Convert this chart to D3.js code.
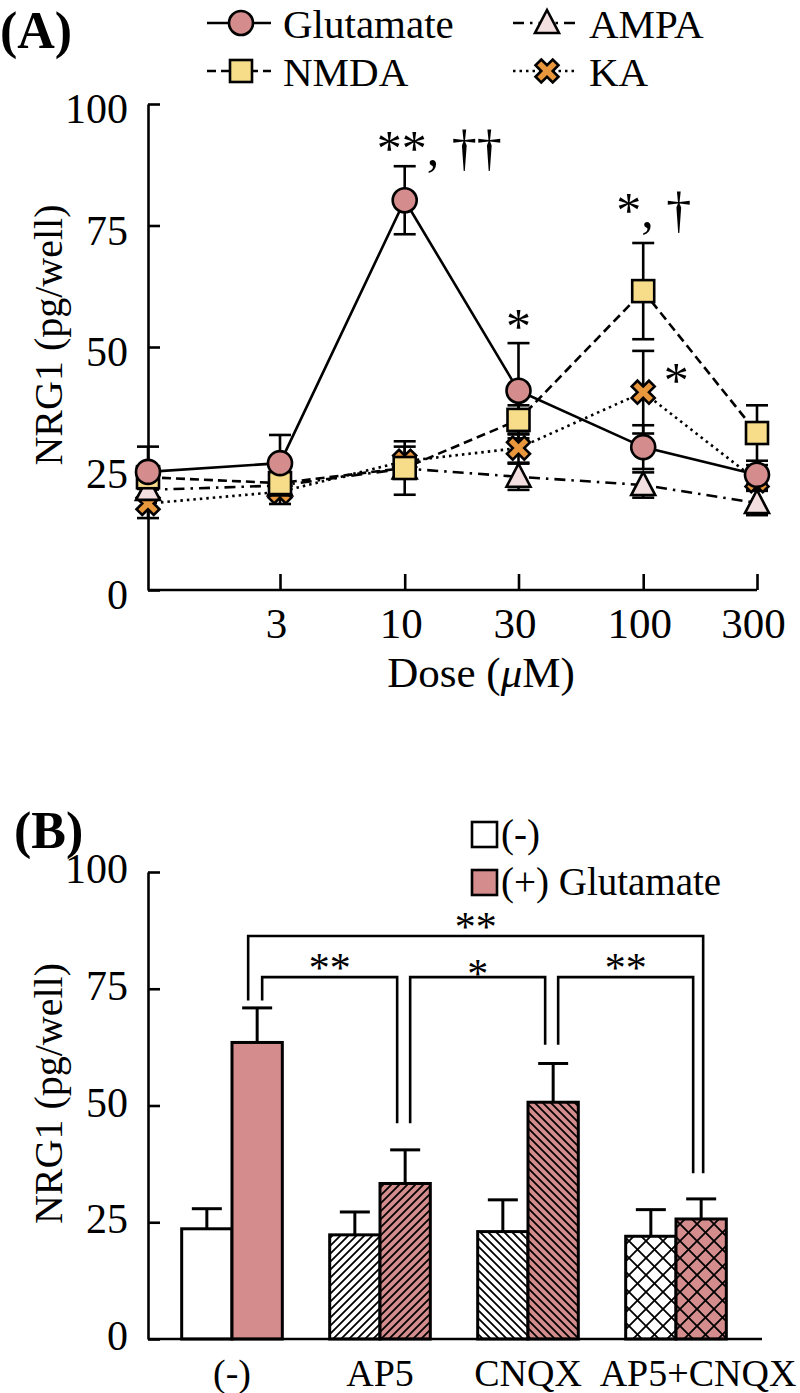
<!DOCTYPE html>
<html>
<head>
<meta charset="utf-8">
<script src="https://cdn.jsdelivr.net/npm/d3@7"></script>
<style>
  body { margin: 0; background: #fff; }
  text { font-family: "Liberation Serif", "Times New Roman", serif; fill: #000; }
</style>
</head>
<body>
<svg id="chart" width="800" height="1393"></svg>
<script>
// ---- panel A data (NRG1 pg/well vs dose) ----
var doses = [0, 3, 10, 30, 100, 300];
var doseTicks = [3, 10, 30, 100, 300];
var glutamate = [24.3, 26.1, 80.2, 41.0, 29.4, 23.7];
var glutamateErr = [5.2, 5.8, 7.0, 9.8, 4.5, 2.0];
var nmda = [23.2, 22.0, 25.1, 35.0, 61.5, 32.3];
var nmdaErr = [2.0, 2.0, 5.5, 3.0, 9.9, 5.7];
var ampa = [20.6, 21.5, 25.0, 23.3, 21.6, 17.9];
var ampaErr = [1.5, 1.5, 2.0, 2.7, 2.6, 2.5];
var ka = [17.8, 20.2, 26.5, 29.2, 40.7, 22.5];
var kaErr = [3.0, 2.5, 3.0, 3.0, 8.5, 2.0];
var yTicks = [0, 25, 50, 75, 100];
var annotA = [
  { dose: 10, value: 87.4, text: "**, ††" },
  { dose: 30, value: 50.8, text: "*" },
  { dose: 100, value: 74.6, text: "*, †" },
  { dose: 100, value: 39.8, text: "*" }
];

// ---- panel B data ----
var groups = ["(-)", "AP5", "CNQX", "AP5+CNQX"];
var ctrlVals = [23.6, 22.3, 23.0, 22.0];
var ctrlErr = [4.3, 4.9, 6.8, 5.7];
var gluVals = [63.5, 33.3, 50.7, 25.7];
var gluErr = [7.4, 7.2, 8.3, 4.3];
var legEnds = [72.5, 46.2, 63.0, 35.5];
var brackets = [
  { from: 0, to: 1, level: 77.5, text: "**" },
  { from: 1, to: 2, level: 77.5, text: "*" },
  { from: 2, to: 3, level: 77.5, text: "**" },
  { from: 0, to: 3, level: 86.3, text: "**" }
];

var svg = d3.select("#chart");
svg.append("rect").attr("width", 800).attr("height", 1393).attr("fill", "#fff");

var pink = "#d48c8c";
var lw = 2.6;

// ================= PANEL A =================
var leftA = 148, rightA = 757;
var yA = d3.scaleLinear().domain([0, 100]).range([590, 104]);
var xLog = d3.scaleLog().domain([3, 300]).range([280, 757]);
function xA(d) { return d === 0 ? leftA : xLog(d); }

var gA = svg.append("g");

var yAxisA = gA.append("g").attr("transform", "translate(" + leftA + ",0)")
  .call(d3.axisLeft(yA).tickValues(yTicks).tickSize(-12).tickSizeOuter(0).tickPadding(20));
yAxisA.selectAll("text").attr("font-size", 42).attr("dy", "0.45em");
yAxisA.selectAll("line").attr("stroke-width", lw);
yAxisA.select(".domain").attr("stroke-width", lw);

var xAxisA = gA.append("g").attr("transform", "translate(0," + yA(0) + ")")
  .call(d3.axisBottom(xLog).tickValues(doseTicks).tickFormat(d3.format("d")).tickSize(-16).tickSizeOuter(0));
xAxisA.select(".domain").remove();
xAxisA.selectAll("line").attr("stroke-width", lw);
xAxisA.selectAll("text").attr("font-size", 43).attr("y", 48).attr("dy", 0).attr("dx", -4);
gA.append("line").attr("x1", leftA).attr("x2", rightA).attr("y1", yA(0)).attr("y2", yA(0))
  .attr("stroke", "#000").attr("stroke-width", lw);
gA.selectAll("text").attr("font-family", null);

gA.append("text").attr("x", 481).attr("y", 687).attr("text-anchor", "middle")
  .attr("font-size", 43)
  .html('Dose (<tspan font-style="italic">μ</tspan>M)');
gA.append("text").attr("transform", "translate(62," + (yA(50) - 12) + ") rotate(-90)")
  .attr("text-anchor", "middle").attr("font-size", 40).text("NRG1 (pg/well)");

var seriesA = [
  { name: "KA", vals: ka, err: kaErr, dash: "2.5,4", fill: "#e8973d", shape: "x" },
  { name: "AMPA", vals: ampa, err: ampaErr, dash: "11,6,2.5,6", fill: "#f3dfdf", shape: "tri" },
  { name: "NMDA", vals: nmda, err: nmdaErr, dash: "9,5", fill: "#f7dc8a", shape: "sq" },
  { name: "Glutamate", vals: glutamate, err: glutamateErr, dash: null, fill: pink, shape: "circle" }
];

var line = d3.line().x(function (d) { return xA(d[0]); }).y(function (d) { return yA(d[1]); });

seriesA.forEach(function (s) {
  gA.append("path").datum(doses.map(function (d, i) { return [d, s.vals[i]]; }))
    .attr("d", line).attr("fill", "none").attr("stroke", "#000").attr("stroke-width", lw)
    .attr("stroke-dasharray", s.dash);
});

seriesA.forEach(function (s) {
  var eb = gA.append("g").attr("stroke", "#000").attr("stroke-width", lw);
  doses.forEach(function (d, i) {
    var x = xA(d), lo = yA(s.vals[i] - s.err[i]), hi = yA(s.vals[i] + s.err[i]);
    eb.append("line").attr("x1", x).attr("x2", x).attr("y1", lo).attr("y2", hi);
    eb.append("line").attr("x1", x - 11).attr("x2", x + 11).attr("y1", lo).attr("y2", lo);
    eb.append("line").attr("x1", x - 11).attr("x2", x + 11).attr("y1", hi).attr("y2", hi);
  });
});

function marker(g, shape, fill, x, y) {
  var m;
  if (shape === "circle") {
    m = g.append("circle").attr("cx", x).attr("cy", y).attr("r", 12);
  } else if (shape === "sq") {
    m = g.append("rect").attr("x", x - 11).attr("y", y - 11).attr("width", 22).attr("height", 22);
  } else if (shape === "tri") {
    m = g.append("path").attr("d", "M0,-13L12,10L-12,10Z").attr("transform", "translate(" + x + "," + y + ")");
  } else {
    m = g.append("path").attr("d", d3.symbol(d3.symbolCross, 330)())
      .attr("transform", "translate(" + x + "," + y + ") rotate(45)");
  }
  m.attr("fill", fill).attr("stroke", "#000").attr("stroke-width", 2.6).attr("stroke-linejoin", "miter");
}

seriesA.forEach(function (s) {
  doses.forEach(function (d, i) { marker(gA, s.shape, s.fill, xA(d), yA(s.vals[i])); });
});

// significance marks
var annotShift = [-28, 0, -27, 33];
var annotAnchor = ["start", "middle", "start", "middle"];
annotA.forEach(function (a, i) {
  gA.append("text").attr("x", xA(a.dose) + annotShift[i]).attr("y", yA(a.value))
    .attr("text-anchor", annotAnchor[i]).attr("font-size", 50)
    .attr("xml:space", "preserve").text(a.text);
});

// legend A
var legA = [
  { s: seriesA[3], x: 207, y: 23 },
  { s: seriesA[2], x: 207, y: 71 },
  { s: seriesA[1], x: 513, y: 23 },
  { s: seriesA[0], x: 513, y: 71 }
];
legA.forEach(function (l) {
  gA.append("line").attr("x1", l.x).attr("x2", l.x + 64).attr("y1", l.y).attr("y2", l.y)
    .attr("stroke", "#000").attr("stroke-width", lw).attr("stroke-dasharray", l.s.dash);
  marker(gA, l.s.shape, l.s.fill, l.x + 34, l.y);
  gA.append("text").attr("x", l.x + 76).attr("y", l.y + 15).attr("font-size", 41).text(l.s.name);
});
svg.append("text").attr("x", 0).attr("y", 48).attr("font-size", 52).attr("font-weight", "bold").text("(A)");

// ================= PANEL B =================
var leftB = 148, rightB = 762;
var yB = d3.scaleLinear().domain([0, 100]).range([1339, 872]);
var xB = d3.scaleBand().domain(groups).range([158, 750]).paddingInner(0.32).paddingOuter(0.16);
var xSub = d3.scaleBand().domain(["ctrl", "glu"]).range([0, xB.bandwidth()]);

var defs = svg.append("defs");
function hatch(id, bg, kind) {
  var size = kind === "cross" ? 17 : 8;
  var p = defs.append("pattern").attr("id", id).attr("patternUnits", "userSpaceOnUse")
    .attr("width", size).attr("height", size);
  p.append("rect").attr("width", size).attr("height", size).attr("fill", bg);
  var paths = [];
  if (kind === "fwd" || kind === "cross") paths.push("M0," + size + "L" + size + ",0M-2,2L2,-2M" + (size - 2) + "," + (size + 2) + "L" + (size + 2) + "," + (size - 2));
  if (kind === "back" || kind === "cross") paths.push("M0,0L" + size + "," + size + "M-2," + (size - 2) + "L2," + (size + 2) + "M" + (size - 2) + ",-2L" + (size + 2) + ",2");
  paths.forEach(function (d) {
    p.append("path").attr("d", d).attr("stroke", "#000").attr("stroke-width", 1.8);
  });
}
var kinds = [null, "fwd", "back", "cross"];
kinds.forEach(function (k, i) {
  if (k) { hatch("w" + i, "#fff", k); hatch("p" + i, pink, k); }
});
function fillFor(i, isGlu) {
  if (!kinds[i]) return isGlu ? pink : "#fff";
  return "url(#" + (isGlu ? "p" : "w") + i + ")";
}

var gB = svg.append("g");

var yAxisB = gB.append("g").attr("transform", "translate(" + leftB + ",0)")
  .call(d3.axisLeft(yB).tickValues(yTicks).tickSize(-12).tickSizeOuter(0).tickPadding(20));
yAxisB.selectAll("text").attr("font-size", 42).attr("font-family", null).attr("dy", "0.25em");
yAxisB.selectAll("line").attr("stroke-width", lw);
yAxisB.select(".domain").attr("stroke-width", lw);

gB.append("text").attr("transform", "translate(62," + (yB(50) - 12) + ") rotate(-90)")
  .attr("text-anchor", "middle").attr("font-size", 40).text("NRG1 (pg/well)");

// bars
var barData = [];
groups.forEach(function (g, i) {
  barData.push({ g: g, i: i, k: "ctrl", v: ctrlVals[i], e: ctrlErr[i] });
  barData.push({ g: g, i: i, k: "glu", v: gluVals[i], e: gluErr[i] });
});
var bx = function (d) { return xB(d.g) + xSub(d.k); };
var bw = xSub.bandwidth();
var bars = gB.append("g");
bars.selectAll("line.err").data(barData).enter().append("line")
  .attr("x1", function (d) { return bx(d) + bw / 2; }).attr("x2", function (d) { return bx(d) + bw / 2; })
  .attr("y1", function (d) { return yB(d.v); }).attr("y2", function (d) { return yB(d.v + d.e); })
  .attr("stroke", "#000").attr("stroke-width", 3);
bars.selectAll("line.cap").data(barData).enter().append("line")
  .attr("x1", function (d) { return bx(d) + bw / 2 - 15; }).attr("x2", function (d) { return bx(d) + bw / 2 + 15; })
  .attr("y1", function (d) { return yB(d.v + d.e); }).attr("y2", function (d) { return yB(d.v + d.e); })
  .attr("stroke", "#000").attr("stroke-width", 3);
bars.selectAll("rect").data(barData).enter().append("rect")
  .attr("x", bx).attr("width", bw)
  .attr("y", function (d) { return yB(d.v); })
  .attr("height", function (d) { return yB(0) - yB(d.v); })
  .attr("fill", function (d) { return fillFor(d.i, d.k === "glu"); })
  .attr("stroke", "#000").attr("stroke-width", 3);

gB.append("line").attr("x1", leftB).attr("x2", rightB).attr("y1", yB(0)).attr("y2", yB(0))
  .attr("stroke", "#000").attr("stroke-width", lw);

var labShift = [0, 0, 0, 22];
groups.forEach(function (g, i) {
  gB.append("text").attr("x", xB(g) + xB.bandwidth() / 2 + labShift[i]).attr("y", 1386)
    .attr("text-anchor", "middle").attr("font-size", 38).text(g);
});

// brackets
function gluX(i) { return xB(groups[i]) + xSub("glu") + bw / 2; }
brackets.forEach(function (b) {
  var wide = b.to - b.from > 1;
  var x1 = gluX(b.from) + (wide ? -9 : 5);
  var x2 = gluX(b.to) + (wide ? 2 : -8);
  var y = yB(b.level);
  gB.append("path")
    .attr("d", "M" + x1 + "," + yB(legEnds[b.from]) + "V" + y + "H" + x2 + "V" + yB(legEnds[b.to]))
    .attr("fill", "none").attr("stroke", "#000").attr("stroke-width", lw);
  gB.append("text").attr("x", (x1 + x2) / 2).attr("y", y + 5 + (b.text.length === 1 ? 6 : 0))
    .attr("text-anchor", "middle").attr("font-size", 42).text(b.text);
});

// legend B
var legB = [{ t: "(-)", f: "#fff" }, { t: "(+) Glutamate", f: pink }];
legB.forEach(function (l, i) {
  var y = 822 + i * 48;
  gB.append("rect").attr("x", 472).attr("y", y).attr("width", 25).attr("height", 25)
    .attr("fill", l.f).attr("stroke", "#000").attr("stroke-width", 2.6);
  gB.append("text").attr("x", 501).attr("y", y + 25).attr("font-size", 39).text(l.t);
});
svg.append("text").attr("x", 14).attr("y", 848).attr("font-size", 52).attr("font-weight", "bold").text("(B)");
</script>
</body>
</html>
